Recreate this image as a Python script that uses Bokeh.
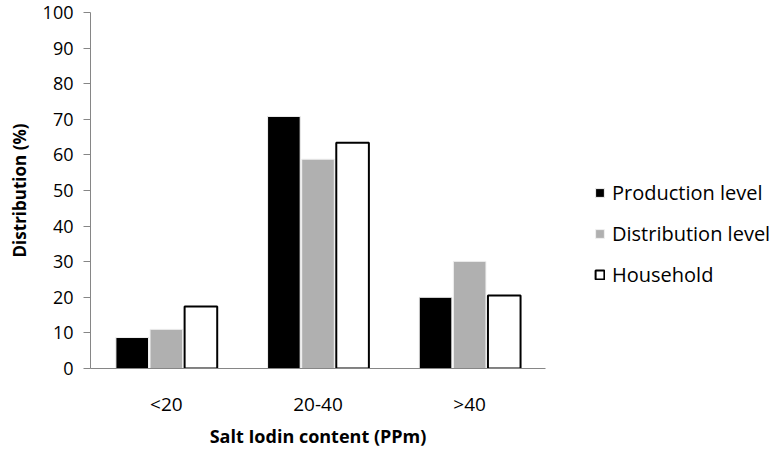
from bokeh.plotting import figure
from bokeh.models import FactorRange, Range1d, Legend, LegendItem, FixedTicker, ColumnDataSource
from bokeh.transform import dodge
from bokeh.embed import file_html
from bokeh.resources import INLINE

categories = ["<20", "20-40", ">40"]
production = [8.7, 70.8, 20.0]
distribution = [11.0, 58.8, 30.1]
household = [17.4, 63.4, 20.5]
series_names = ["Production level", "Distribution level", "Household"]
y_ticks = [0, 10, 20, 30, 40, 50, 60, 70, 80, 90, 100]

src = ColumnDataSource(dict(cat=categories, p=production, d=distribution, h=household))

FONT = "Open Sans"

p = figure(frame_width=455, frame_height=356, x_range=FactorRange(*categories, range_padding=0),
           y_range=Range1d(0, 100), output_backend="svg", toolbar_location=None,
           min_border_left=90, min_border_right=4, min_border_top=12, min_border_bottom=68)
p.outline_line_color = None
p.grid.visible = False
p.background_fill_color = "white"
p.border_fill_color = "white"

r1 = p.vbar(x=dodge("cat", -0.225, range=p.x_range), top="p", width=0.215, source=src,
            fill_color="black", line_color="#f0f0f0", line_width=1)
r2 = p.vbar(x=dodge("cat", 0.0, range=p.x_range), top="d", width=0.215, source=src,
            fill_color="#b0b0b0", line_color="#f0f0f0", line_width=1)
r3 = p.vbar(x=dodge("cat", 0.228, range=p.x_range), top="h", width=0.215, source=src,
            fill_color="white", line_color="black", line_width=2)

p.yaxis.ticker = FixedTicker(ticks=y_ticks)
p.yaxis.axis_line_color = "#868686"
p.yaxis.major_tick_line_color = "#868686"
p.yaxis.major_tick_out = 7
p.yaxis.major_tick_in = 0
p.yaxis.minor_tick_line_color = None
p.yaxis.major_label_standoff = 10
p.yaxis.major_label_text_font = FONT
p.yaxis.major_label_text_font_size = "18px"
p.yaxis.major_label_text_color = "black"
p.yaxis.axis_label = "Distribution (%)"
p.yaxis.axis_label_text_font = FONT
p.yaxis.axis_label_text_font_size = "17px"
p.yaxis.axis_label_text_font_style = "bold"
p.yaxis.axis_label_text_color = "black"
p.yaxis.axis_label_standoff = 9

p.xaxis.axis_line_color = "#868686"
p.xaxis.major_tick_line_color = None
p.xaxis.major_tick_out = 0
p.xaxis.major_tick_in = 0
p.xaxis.major_label_standoff = 22
p.xaxis.major_label_text_font = FONT
p.xaxis.major_label_text_font_size = "19px"
p.xaxis.major_label_text_color = "black"
p.xaxis.axis_label = "Salt Iodin content (PPm)"
p.xaxis.axis_label_text_font = FONT
p.xaxis.axis_label_text_font_size = "18px"
p.xaxis.axis_label_text_font_style = "bold"
p.xaxis.axis_label_text_color = "black"
p.xaxis.axis_label_standoff = 4

legend = Legend(items=[LegendItem(label=series_names[0], renderers=[r1]),
                       LegendItem(label=series_names[1], renderers=[r2]),
                       LegendItem(label=series_names[2], renderers=[r3])],
                location="top_left", orientation="vertical",
                border_line_color=None, background_fill_alpha=0,
                label_text_font=FONT, label_text_font_size="20px",
                label_text_color="black", label_height=20,
                glyph_width=11, glyph_height=11, label_standoff=7,
                spacing=14, padding=0, margin=0)
p.add_layout(legend, "right")
legend.location = (49, 80)

open("out.html", "w").write(file_html(p, INLINE))
